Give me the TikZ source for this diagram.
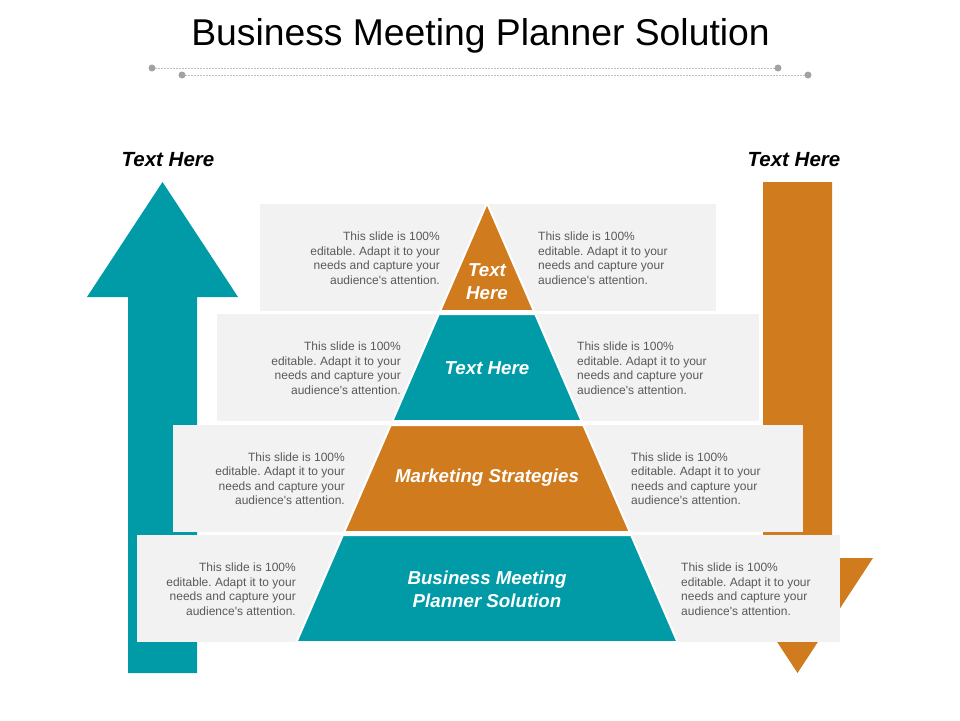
\documentclass[tikz,border=0pt]{standalone}
\usepackage{fontspec}
\setmainfont{Liberation Sans}
\frenchspacing
\definecolor{tealc}{HTML}{009BA6}
\definecolor{orangec}{HTML}{D07B1D}
\definecolor{boxgray}{HTML}{F2F2F2}
\definecolor{txtgray}{HTML}{5A5A5A}
\definecolor{dotgray}{HTML}{BFBFBF}
\begin{document}
\begin{tikzpicture}[x=1pt,y=-1pt,
  sidetxt/.style={font=\fontsize{12}{14.5}\selectfont, text=txtgray, inner sep=0pt},
  lefttxt/.style={sidetxt, align=right, anchor=east},
  righttxt/.style={sidetxt, align=left, anchor=west},
  tierlabel/.style={font=\fontsize{18.7}{23}\selectfont\bfseries\itshape, text=white, align=center, inner sep=0pt},
  toplabel/.style={font=\fontsize{20.5}{23}\selectfont\bfseries\itshape, text=black, inner sep=0pt},
  rowbox/.style={fill=boxgray},
  tier/.style={draw=white, line width=2pt, line join=miter}]
\useasboundingbox (0,0) rectangle (960,720);
% title
\node[font=\fontsize{37.3}{40}\selectfont, inner sep=0pt] (title) at (480.5,35.5) {Business Meeting Planner Solution};
\coordinate (d1a) at (152,68); \coordinate (d1b) at (778,68);
\coordinate (d2a) at (182,75); \coordinate (d2b) at (808,75);
\draw[dotgray, line width=0.6pt, dash pattern=on 2pt off 1pt] (d1a) -- (d1b);
\draw[dotgray, line width=0.6pt, dash pattern=on 2pt off 1pt] (d2a) -- (d2b);
\foreach \p in {d1a,d1b,d2a,d2b} \fill[dotgray!85!black] (\p) circle (3.5);
% arrows
\fill[tealc] (128,673) -- (128,297) -- (87,297) -- (162.5,182) -- (238,297) -- (197,297) -- (197,673) -- cycle;
\fill[orangec] (763,182) -- (832,182) -- (832,558) -- (873,558) -- (797.5,673) -- (722,558) -- (763,558) -- cycle;
\node[toplabel] (tl) at (168,160) {Text Here};
\node[toplabel] (tr) at (794,160) {Text Here};
% rows
\fill[rowbox] (260,204) rectangle (716,311);
\fill[rowbox] (217,314) rectangle (759,421);
\fill[rowbox] (173,425) rectangle (803,532);
\fill[rowbox] (137,535) rectangle (840,642);
% pyramid tiers
\filldraw[tier, fill=orangec] (487,203) -- (533.9,311) -- (440.1,311) -- cycle;
\filldraw[tier, fill=tealc] (438.8,314) -- (535.2,314) -- (581.6,421) -- (392.4,421) -- cycle;
\filldraw[tier, fill=orangec] (390.7,425) -- (583.3,425) -- (629.8,532) -- (344.2,532) -- cycle;
\filldraw[tier, fill=tealc] (342.9,535) -- (631.1,535) -- (677.5,642) -- (296.5,642) -- cycle;
\node[tierlabel] (t1) at (487,281.5) {Text\\Here};
\node[tierlabel] (t2) at (487,368) {Text Here};
\node[tierlabel] (t3) at (487,478) {Marketing Strategies};
\node[tierlabel] (t4) at (487,589.5) {Business Meeting\\Planner Solution};
% side texts
\newcommand{\slidetxt}{This slide is 100\%\\editable. Adapt it to your\\needs and capture your\\audience\textquotesingle s attention.}
\node[lefttxt] (l1) at (440,258) {\slidetxt};
\node[righttxt] (r1) at (538,258) {\slidetxt};
\node[lefttxt] (l2) at (401,368) {\slidetxt};
\node[righttxt] (r2) at (577,368) {\slidetxt};
\node[lefttxt] (l3) at (345,478.5) {\slidetxt};
\node[righttxt] (r3) at (631,478.5) {\slidetxt};
\node[lefttxt] (l4) at (296,589) {\slidetxt};
\node[righttxt] (r4) at (681,589) {\slidetxt};
\end{tikzpicture}
\end{document}
